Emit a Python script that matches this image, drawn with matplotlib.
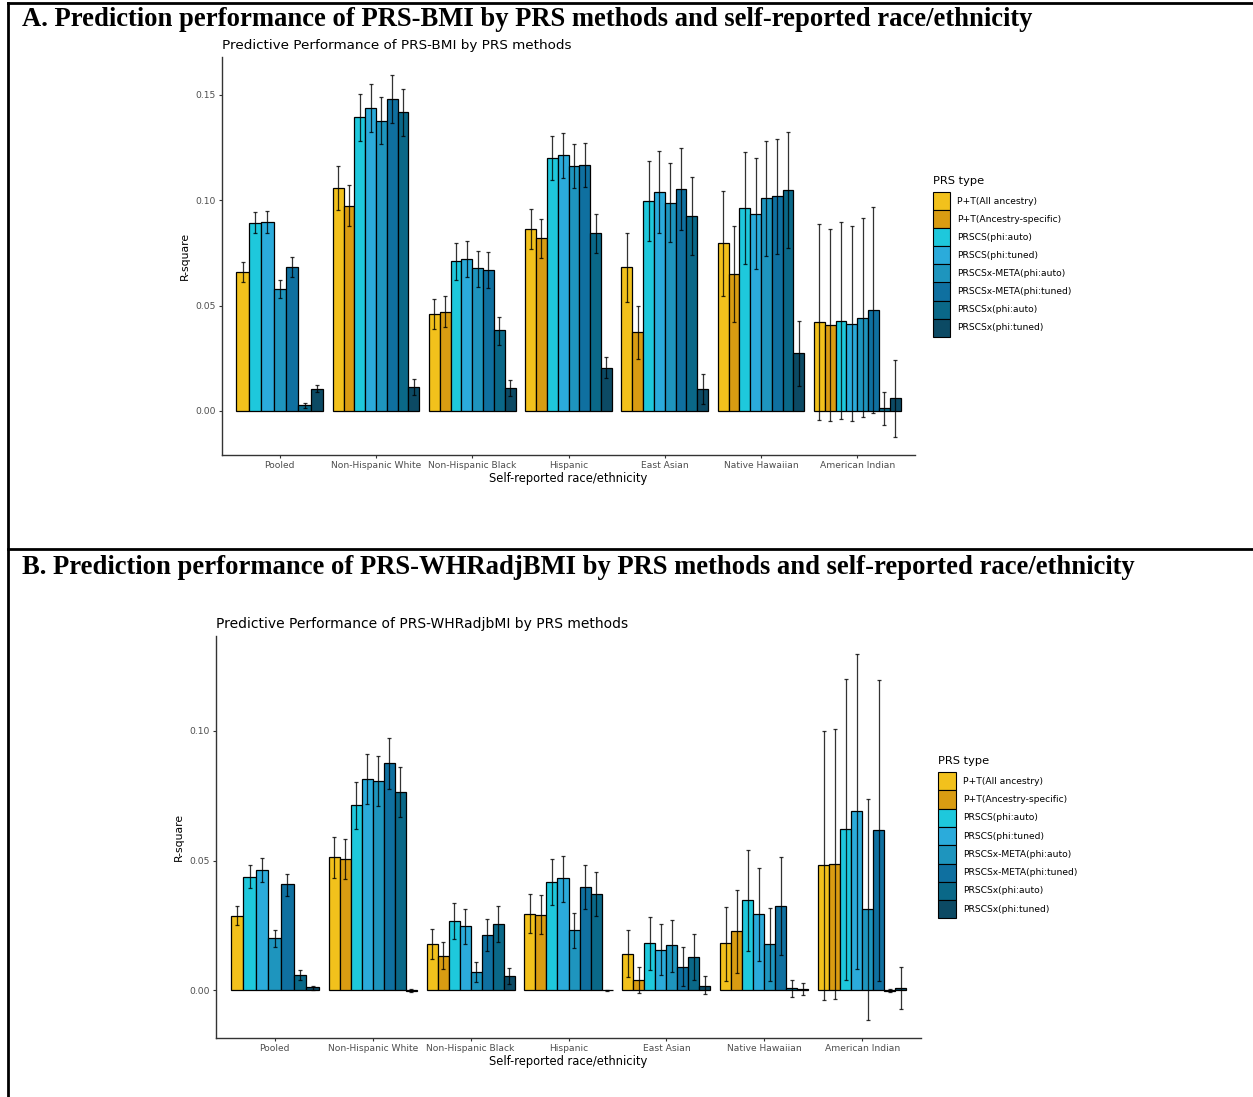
import numpy as np
import matplotlib
matplotlib.use("Agg")
import matplotlib.pyplot as plt
from matplotlib.patches import Rectangle
from matplotlib.lines import Line2D

# ---------------- data ----------------
groups = ["Pooled", "Non-Hispanic White", "Non-Hispanic Black", "Hispanic",
          "East Asian", "Native Hawaiian", "American Indian"]
prs_types = ["P+T(All ancestry)", "P+T(Ancestry-specific)", "PRSCS(phi:auto)",
             "PRSCS(phi:tuned)", "PRSCSx-META(phi:auto)", "PRSCSx-META(phi:tuned)",
             "PRSCSx(phi:auto)", "PRSCSx(phi:tuned)"]
colors = ["#F2C11C", "#D99C12", "#1EC8DC", "#2BABDB", "#1E95BE", "#0F70A0",
          "#0A6888", "#0C4A64"]
nan = np.nan

# Panel A: PRS-BMI  (rows = groups, cols = PRS types)
bmi_r2 = [
    [0.0659, nan, 0.0892, 0.0895, 0.0578, 0.0685, 0.0027, 0.0105],
    [0.1059, 0.0975, 0.1393, 0.1437, 0.1377, 0.1482, 0.1418, 0.0114],
    [0.0460, 0.0472, 0.0712, 0.0723, 0.0677, 0.0669, 0.0382, 0.0109],
    [0.0865, 0.0819, 0.1201, 0.1214, 0.1162, 0.1166, 0.0843, 0.0206],
    [0.0681, 0.0374, 0.0997, 0.1040, 0.0987, 0.1055, 0.0926, 0.0105],
    [0.0797, 0.0648, 0.0964, 0.0935, 0.1010, 0.1021, 0.1051, 0.0276],
    [0.0422, 0.0407, 0.0429, 0.0415, 0.0442, 0.0479, 0.0013, 0.0060],
]
bmi_lo = [
    [0.0612, nan, 0.0843, 0.0845, 0.0534, 0.0637, 0.0016, 0.0089],
    [0.0956, 0.0876, 0.1280, 0.1323, 0.1265, 0.1368, 0.1303, 0.0076],
    [0.0388, 0.0399, 0.0623, 0.0634, 0.0588, 0.0583, 0.0315, 0.0073],
    [0.0770, 0.0727, 0.1095, 0.1108, 0.1057, 0.1062, 0.0751, 0.0155],
    [0.0517, 0.0247, 0.0805, 0.0846, 0.0800, 0.0861, 0.0742, 0.0035],
    [0.0548, 0.0420, 0.0699, 0.0672, 0.0737, 0.0746, 0.0773, 0.0120],
    [-0.0041, -0.0048, -0.0036, -0.0046, -0.0030, -0.0011, -0.0068, -0.0122],
]
bmi_hi = [
    [0.0707, nan, 0.0945, 0.0947, 0.0623, 0.0731, 0.0040, 0.0124],
    [0.1162, 0.1071, 0.1506, 0.1552, 0.1490, 0.1596, 0.1529, 0.0151],
    [0.0531, 0.0547, 0.0797, 0.0808, 0.0759, 0.0754, 0.0448, 0.0147],
    [0.0959, 0.0911, 0.1307, 0.1320, 0.1265, 0.1271, 0.0937, 0.0255],
    [0.0843, 0.0499, 0.1187, 0.1233, 0.1177, 0.1249, 0.1109, 0.0174],
    [0.1043, 0.0876, 0.1230, 0.1200, 0.1280, 0.1292, 0.1325, 0.0429],
    [0.0886, 0.0865, 0.0897, 0.0876, 0.0914, 0.0967, 0.0092, 0.0244],
]

# Panel B: PRS-WHRadjBMI
whr_r2 = [
    [0.0288, nan, 0.0438, 0.0463, 0.0200, 0.0408, 0.0060, 0.0012],
    [0.0513, 0.0505, 0.0714, 0.0815, 0.0806, 0.0874, 0.0763, -0.0002],
    [0.0179, 0.0133, 0.0268, 0.0247, 0.0072, 0.0213, 0.0256, 0.0056],
    [0.0296, 0.0292, 0.0417, 0.0432, 0.0232, 0.0400, 0.0373, 0.0001],
    [0.0142, 0.0040, 0.0182, 0.0156, 0.0173, 0.0092, 0.0128, 0.0019],
    [0.0181, 0.0227, 0.0347, 0.0294, 0.0177, 0.0326, 0.0009, 0.0004],
    [0.0481, 0.0488, 0.0622, 0.0690, 0.0312, 0.0617, -0.0001, 0.0009],
]
whr_lo = [
    [0.0250, nan, 0.0394, 0.0418, 0.0169, 0.0364, 0.0041, 0.0003],
    [0.0433, 0.0427, 0.0621, 0.0719, 0.0710, 0.0776, 0.0669, -0.0005],
    [0.0120, 0.0082, 0.0197, 0.0179, 0.0033, 0.0150, 0.0187, 0.0024],
    [0.0220, 0.0218, 0.0329, 0.0342, 0.0165, 0.0314, 0.0288, -0.0002],
    [0.0050, -0.0009, 0.0078, 0.0060, 0.0072, 0.0018, 0.0041, -0.0014],
    [0.0037, 0.0069, 0.0153, 0.0112, 0.0035, 0.0135, -0.0024, -0.0019],
    [-0.0035, -0.0032, 0.0041, 0.0083, -0.0112, 0.0038, -0.0007, -0.0072],
]
whr_hi = [
    [0.0326, nan, 0.0481, 0.0509, 0.0231, 0.0449, 0.0079, 0.0019],
    [0.0591, 0.0583, 0.0803, 0.0910, 0.0903, 0.0973, 0.0858, 0.0005],
    [0.0236, 0.0185, 0.0337, 0.0315, 0.0109, 0.0274, 0.0326, 0.0088],
    [0.0371, 0.0367, 0.0505, 0.0519, 0.0299, 0.0483, 0.0456, 0.0003],
    [0.0231, 0.0090, 0.0282, 0.0254, 0.0273, 0.0167, 0.0217, 0.0054],
    [0.0322, 0.0388, 0.0542, 0.0473, 0.0319, 0.0514, 0.0041, 0.0027],
    [0.0997, 0.1008, 0.1200, 0.1295, 0.0735, 0.1195, 0.0005, 0.0092],
]

y_ticks = {"A": [0.00, 0.05, 0.10, 0.15], "B": [0.00, 0.05, 0.10]}

# ---------------- figure ----------------
W, H = 1253, 1097
fig = plt.figure(figsize=(W / 100, H / 100), dpi=100)


def fx(x):
    return x / W


def fy(y):
    return 1 - y / H


def px_axes(x0, y0, x1, y1):
    return fig.add_axes([fx(x0), fy(y1), fx(x1) - fx(x0), (y1 - y0) / H])


# frame lines
fig.add_artist(Line2D([fx(8), fx(8)], [fy(3), fy(1097)], color="black", lw=2.0))
fig.add_artist(Line2D([fx(8), fx(1253)], [fy(3), fy(3)], color="black", lw=2.0))
fig.add_artist(Line2D([fx(8), fx(1253)], [fy(549), fy(549)], color="black", lw=2.0))

serif = ["Liberation Serif", "DejaVu Serif"]
fig.text(fx(22), fy(20),
         "A. Prediction performance of PRS-BMI by PRS methods and self-reported race/ethnicity",
         family=serif, weight="bold", fontsize=19.2, va="center", ha="left")
fig.text(fx(22), fy(567),
         "B. Prediction performance of PRS-WHRadjBMI by PRS methods and self-reported race/ethnicity",
         family=serif, weight="bold", fontsize=19.2, va="center", ha="left")

tick_col = "#4D4D4D"


def draw_panel(box, r2, lo, hi, ylim, yt, title, title_fs, legend_box):
    ax = px_axes(*box)
    ng = len(groups)
    dodge = 0.9
    for gi in range(ng):
        present = [k for k in range(len(prs_types)) if not np.isnan(r2[gi][k])]
        n = len(present)
        w = dodge / n
        for j, k in enumerate(present):
            xc = (gi + 1) - dodge / 2 + (j + 0.5) * w
            v = r2[gi][k]
            ax.bar(xc, v, width=w, color=colors[k], edgecolor="black",
                   linewidth=0.9, zorder=2)
            ax.errorbar(xc, v, yerr=[[v - lo[gi][k]], [hi[gi][k] - v]],
                        fmt="none", ecolor="black", elinewidth=0.9,
                        capsize=1.2, capthick=0.9, alpha=0.8, zorder=3)
    ax.set_xlim(0.4, ng + 0.6)
    ax.set_ylim(*ylim)
    ax.set_xticks(range(1, ng + 1))
    ax.set_xticklabels(groups)
    ax.set_yticks(yt)
    ax.set_yticklabels([f"{t:.2f}" for t in yt])
    for s in ["top", "right"]:
        ax.spines[s].set_visible(False)
    for s in ["left", "bottom"]:
        ax.spines[s].set_color("#333333")
        ax.spines[s].set_linewidth(1.0)
    ax.tick_params(axis="both", labelsize=6.6, colors="#333333",
                   labelcolor=tick_col, length=2.5, width=0.8, pad=2)
    ax.set_ylabel("R-square", fontsize=7.8, labelpad=4)
    ax.set_xlabel("Self-reported race/ethnicity", fontsize=8.3, labelpad=1)
    ax.set_title(title, fontsize=title_fs, loc="left", pad=6)
    ax.set_facecolor("none")

    # legend
    lx, ly, kw, kh = legend_box
    fig.text(fx(lx), fy(ly - 11), "PRS type", fontsize=8.2, va="center", ha="left")
    for i, (lab, c) in enumerate(zip(prs_types, colors)):
        y0 = ly + i * kh
        fig.add_artist(Rectangle((fx(lx), fy(y0 + kh)), kw / W, kh / H,
                                 transform=fig.transFigure, facecolor=c,
                                 edgecolor="black", linewidth=0.8))
        fig.text(fx(lx + kw + 7), fy(y0 + kh / 2), lab, fontsize=6.6,
                 va="center", ha="left")
    return ax


draw_panel((222, 57, 915, 455), bmi_r2, bmi_lo, bmi_hi, (-0.0209, 0.168),
           y_ticks["A"], "Predictive Performance of PRS-BMI by PRS methods", 9.7,
           (933, 192, 17, 18.1))
draw_panel((216, 636, 921, 1038), whr_r2, whr_lo, whr_hi, (-0.0183, 0.1364),
           y_ticks["B"], "Predictive Performance of PRS-WHRadjbMI by PRS methods", 10.0,
           (938, 772, 18, 18.3))

fig.savefig("out.png", dpi=100)
